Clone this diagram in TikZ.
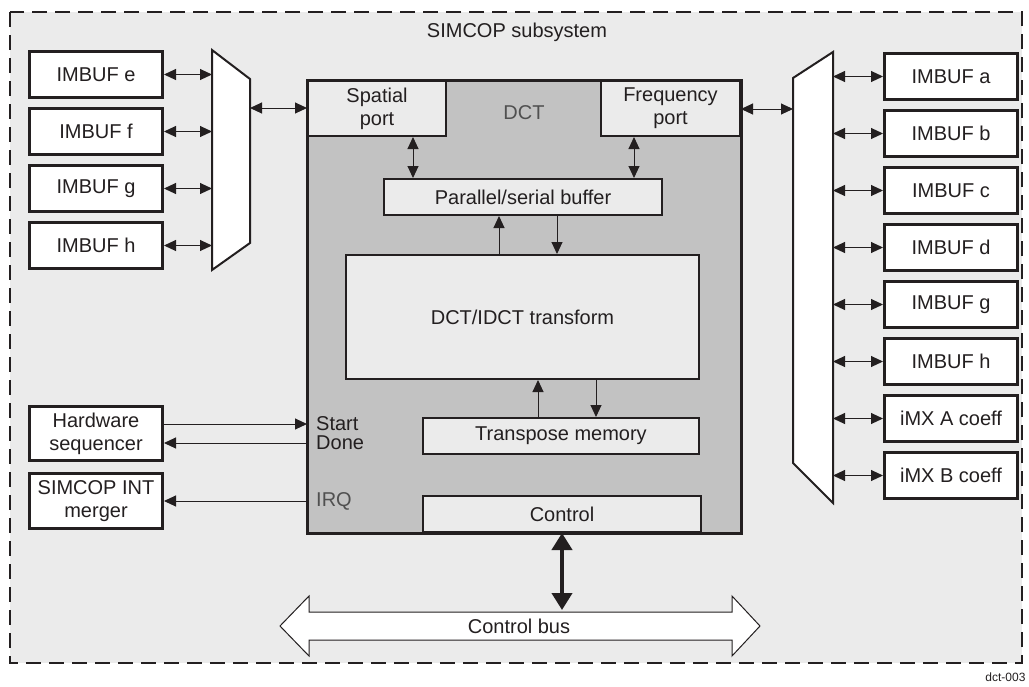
\documentclass[tikz,border=0pt]{standalone}
\usepackage{fontspec}
\setmainfont{Liberation Sans}
\usepackage{xcolor}
\usetikzlibrary{arrows.meta,positioning}
\definecolor{ink}{RGB}{35,31,32}
\definecolor{paper}{RGB}{235,235,235}
\definecolor{core}{RGB}{194,194,194}
\definecolor{faint}{RGB}{80,80,80}

\begin{document}
\begin{tikzpicture}[
  x=1pt,y=-1pt,
  font=\fontsize{20}{23}\selectfont,
  text=ink,
  node distance=8pt and 48pt,
  buf/.style={draw=ink,line width=3pt,fill=white,minimum width=133pt,minimum height=46pt,inner sep=0pt,align=center},
  blk/.style={draw=ink,line width=2pt,fill=paper,inner sep=0pt,align=center},
  mux/.style={draw=ink,line width=2pt,fill=white},
  arr/.style={-{Triangle[length=12pt,width=11pt]},line width=1pt,draw=ink},
  darr/.style={{Triangle[length=12pt,width=11pt]}-{Triangle[length=12pt,width=11pt]},line width=1pt,draw=ink},
  lbl/.style={anchor=west,inner sep=0pt}
]
\fill[white] (0,0) rectangle (1029,686);
\useasboundingbox (0,0) rectangle (1029,686);
\draw[ink,fill=paper,line width=2.2pt,dash pattern=on 15pt off 8pt] (10,12) rectangle (1022,663);
\node (title) at (517,32) {SIMCOP subsystem};
\node[anchor=east,font=\fontsize{12}{14}\selectfont] (tag) at (1029,677) {dct-003};

% left side
\node[buf] (lbufe) at (96,74.5) {IMBUF e};
\node[buf,below=of lbufe] (lbuff) {IMBUF f};
\node[buf,below=of lbuff] (lbufg) {IMBUF g};
\node[buf,below=of lbufg] (lbufh) {IMBUF h};
\node[buf,minimum height=54pt] (hwseq) at (96,433.5) {Hardware\\sequencer};
\node[buf,minimum height=55pt] (intmrg) at (96,501) {SIMCOP INT\\merger};

\draw[mux] (212,50) -- (250,79) -- (250,243) -- (212,270) -- cycle;
\coordinate (lmuxin) at (212,160);
\coordinate (lmuxout) at (250,108);

% right side
\node[buf] (rbufa) at (951,76.5) {IMBUF a};
\node[buf,below=of rbufa] (rbufb) {IMBUF b};
\node[buf,below=of rbufb] (rbufc) {IMBUF c};
\node[buf,below=of rbufc] (rbufd) {IMBUF d};
\node[buf,below=of rbufd] (rbufg) {IMBUF g};
\node[buf,below=of rbufg] (rbufh) {IMBUF h};
\node[buf,below=of rbufh] (coefa) {iMX A coeff};
\node[buf,below=of coefa] (coefb) {iMX B coeff};

\draw[mux] (793,78) -- (833,52) -- (833,503) -- (793,463) -- cycle;
\coordinate (rmuxin) at (793,109);
\coordinate (rmuxout) at (833,280);

% DCT core
\node[fill=core,minimum width=431pt,minimum height=450pt,inner sep=0pt,outer sep=1.5pt] (dct) at (524,306.5) {};
\node[blk,minimum width=138pt,minimum height=55pt] (spat) at (377,108.5) {Spatial\\port};
\node[blk,minimum width=139pt,minimum height=55pt] (freq) at (670.5,108.5) {Frequency\\port};
\node[text=faint] (dctlbl) at (524,113) {DCT};
\node[blk,minimum width=278pt,minimum height=36pt] (psbuf) at (523,197) {Parallel/serial buffer};
\node[blk,minimum width=353pt,minimum height=124pt] (xform) at (522.5,317) {DCT/IDCT transform};
\node[blk,minimum width=276pt,minimum height=36pt] (tmem) at (561,436) {Transpose memory};
\node[blk,minimum width=278pt,minimum height=36pt] (ctrl) at (562,514) {Control};
\draw[ink,line width=3pt] (dct.north west) rectangle (dct.south east);

\node[lbl] (start) at (316,424) {Start};
\node[lbl] (done) at (316,443) {Done};
\node[lbl,text=faint] (irq) at (316,501) {IRQ};

% control bus
\draw[ink,fill=white,line width=1pt] (280,626) -- (309,596) -- (309,612) -- (732,612) -- (732,596) -- (760,626)
  -- (732,656) -- (732,640) -- (309,640) -- (309,656) -- cycle;
\node (bus) at (519,626) {Control bus};
\coordinate (bustop) at (562,610);

\draw[darr] (lbufe.east) -- (lbufe.east -| lmuxin);
\draw[darr] (lbuff.east) -- (lbuff.east -| lmuxin);
\draw[darr] (lbufg.east) -- (lbufg.east -| lmuxin);
\draw[darr] (lbufh.east) -- (lbufh.east -| lmuxin);
\draw[darr] (lmuxout) -- (lmuxout -| dct.west);

\draw[darr] (rbufa.west) -- (rbufa.west -| rmuxout);
\draw[darr] (rbufb.west) -- (rbufb.west -| rmuxout);
\draw[darr] (rbufc.west) -- (rbufc.west -| rmuxout);
\draw[darr] (rbufd.west) -- (rbufd.west -| rmuxout);
\draw[darr] (rbufg.west) -- (rbufg.west -| rmuxout);
\draw[darr] (rbufh.west) -- (rbufh.west -| rmuxout);
\draw[darr] (coefa.west) -- (coefa.west -| rmuxout);
\draw[darr] (coefb.west) -- (coefb.west -| rmuxout);
\draw[darr] (rmuxin -| dct.east) -- (rmuxin);

\draw[darr] ([xshift=-110pt]psbuf.north) -- ([xshift=-110pt]psbuf.north |- spat.south);
\draw[darr] ([xshift=111pt]psbuf.north) -- ([xshift=111pt]psbuf.north |- freq.south);
\draw[arr] ([xshift=-24pt]psbuf.south |- xform.north) -- ([xshift=-24pt]psbuf.south);
\draw[arr] ([xshift=34pt]psbuf.south) -- ([xshift=34pt]psbuf.south |- xform.north);
\draw[arr] ([xshift=-23pt]tmem.north) -- ([xshift=-23pt]tmem.north |- xform.south);
\draw[arr] ([xshift=35pt]tmem.north |- xform.south) -- ([xshift=35pt]tmem.north);

\draw[arr] ([yshift=9.5pt]hwseq.east) -- ([yshift=9.5pt]hwseq.east -| dct.west);
\draw[arr] ([yshift=-9.5pt]hwseq.east -| dct.west) -- ([yshift=-9.5pt]hwseq.east);
\draw[arr] (intmrg.east -| dct.west) -- (intmrg.east);

\draw[{Triangle[length=17pt,width=20pt]}-{Triangle[length=17pt,width=20pt]},line width=4pt,draw=ink] (ctrl.south) -- (ctrl.south |- bustop);
\end{tikzpicture}
\end{document}
